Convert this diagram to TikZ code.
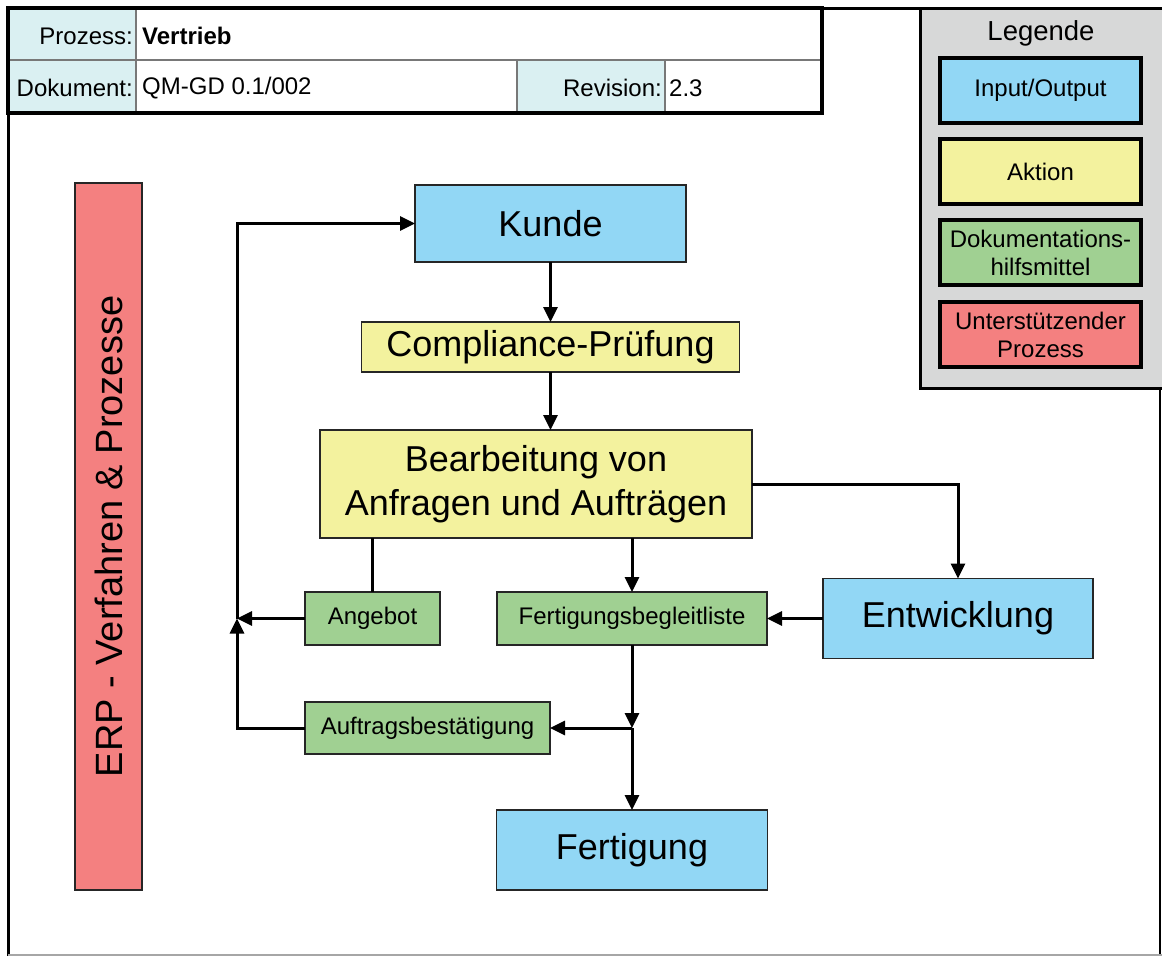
\documentclass[tikz,border=0pt]{standalone}
\usepackage{fontspec}
\setmainfont{Liberation Sans}
\usetikzlibrary{arrows.meta,calc}

\definecolor{iofill}{RGB}{146,215,245}
\definecolor{actfill}{RGB}{243,242,158}
\definecolor{docfill}{RGB}{160,208,146}
\definecolor{supfill}{RGB}{244,128,128}
\definecolor{legfill}{RGB}{215,216,216}
\definecolor{headfill}{RGB}{218,240,242}
\definecolor{gridgray}{RGB}{120,120,120}

\tikzset{
  box/.style={draw=black!85, line width=1.5pt, inner sep=0pt, outer sep=0pt, align=center},
  iobox/.style={box, fill=iofill},
  actbox/.style={box, fill=actfill},
  docbox/.style={box, fill=docfill},
  supbox/.style={box, fill=supfill},
  legbox/.style={draw=black, line width=4pt, inner sep=0pt, outer sep=0pt, align=center,
    minimum width=201pt, minimum height=65pt, font=\fontsize{24}{28}\selectfont},
  bigtext/.style={font=\fontsize{36}{44}\selectfont},
  smalltext/.style={font=\fontsize{24}{28}\selectfont},
  headtext/.style={font=\fontsize{24}{28}\selectfont, inner sep=0pt},
  flow/.style={line width=3pt, -{Triangle[length=15pt,width=14pt]}},
  plain/.style={line width=3pt},
}

\begin{document}
\begin{tikzpicture}[x=1pt, y=-1pt]
\useasboundingbox (0,0) rectangle (1162,956);

% page frame
\draw[line width=3pt] (8,956) -- (8,8) -- (1162,8);
\draw[line width=2.5pt] (1160,388) -- (1160,956);
\draw[line width=2pt, gray!70] (8,955) -- (1162,955);

% header table
\fill[headfill] (8,8) rectangle (136,113);
\fill[headfill] (517,60) rectangle (665,113);
\draw[line width=1.2pt, gridgray] (8,60) -- (822,60);
\draw[line width=1.2pt, gridgray] (136,8) -- (136,113);
\draw[line width=1.2pt, gridgray] (517,60) -- (517,113) (665,60) -- (665,113);
\draw[line width=3.5pt] (8,8) rectangle (822,113);
\node[headtext, anchor=east] (lprozess) at (133,36) {Prozess:};
\node[headtext, anchor=west] (vprozess) at (142,36) {\bfseries Vertrieb};
\node[headtext, anchor=east] (ldok) at (133,88) {Dokument:};
\node[headtext, anchor=west] (vdok) at (142,88) {QM-GD 0.1/002};
\node[headtext, anchor=east] (lrev) at (662,88) {Revision:};
\node[headtext, anchor=west] (vrev) at (669,88) {2.3};

% legend
\draw[fill=legfill, line width=3pt] (1162,388) -- (920,388) -- (920,8) -- (1162,8);
\node[font=\fontsize{27.5}{32}\selectfont] (legtitle) at (1041,33) {Legende};
\node[legbox, fill=iofill] (leg1) at (1040.5,90.5) {Input/Output};
\node[legbox, fill=actfill] (leg2) at (1040.5,171.5) {Aktion};
\node[legbox, fill=docfill] (leg3) at (1040.5,252.5) {Dokumentations-\\hilfsmittel};
\node[legbox, fill=supfill] (leg4) at (1040.5,334.5) {Unterstützender\\Prozess};

% supporting process bar
\node[supbox, rotate=90, minimum width=707pt, minimum height=67pt, font=\fontsize{38}{44}\selectfont]
  (erp) at (108.5,536.5) {ERP - Verfahren \& Prozesse};

% process nodes
\node[iobox, minimum width=271pt, minimum height=77pt, bigtext] (kunde) at (550.5,223.5) {Kunde};
\node[actbox, minimum width=378pt, minimum height=50pt, bigtext] (compl) at (550.5,347) {Compliance-Prüfung};
\node[actbox, minimum width=432pt, minimum height=108pt, bigtext] (bearb) at (536,484)
  {Bearbeitung von\\Anfragen und Aufträgen};
\node[docbox, minimum width=135pt, minimum height=53pt, smalltext] (angebot) at (372.5,618.5) {Angebot};
\node[docbox, minimum width=270pt, minimum height=53pt, smalltext] (fbl) at (632,618.5) {Fertigungsbegleitliste};
\node[iobox, minimum width=270pt, minimum height=80pt, bigtext] (entw) at (958,618.5) {Entwicklung};
\node[docbox, minimum width=245pt, minimum height=52pt, smalltext] (ab) at (427.5,728) {Auftragsbestätigung};
\node[iobox, minimum width=271pt, minimum height=80pt, bigtext] (fert) at (632,850) {Fertigung};

% junctions
\coordinate (back) at (237,618.5);
\coordinate (split) at (fbl.south |- ab.east);

% connectors
\draw[flow] (kunde.south) -- (compl.north);
\draw[flow] (compl.south) -- (compl.south |- bearb.north);
\draw[flow] (bearb.east) -| (entw.north);
\draw[flow] (bearb.south -| fbl.north) -- (fbl.north);
\draw[plain] (bearb.south -| angebot.north) -- (angebot.north);
\draw[flow] (entw.west) -- (fbl.east);
\draw[flow] (angebot.west) -- (back);
\draw[flow] (fbl.south) -- (split);
\draw[flow] (split) -- (fert.north);
\draw[flow] (split) -- (ab.east);
\draw[flow] (ab.west) -| (back);
\draw[flow] (back) |- (kunde.west);
\end{tikzpicture}
\end{document}
